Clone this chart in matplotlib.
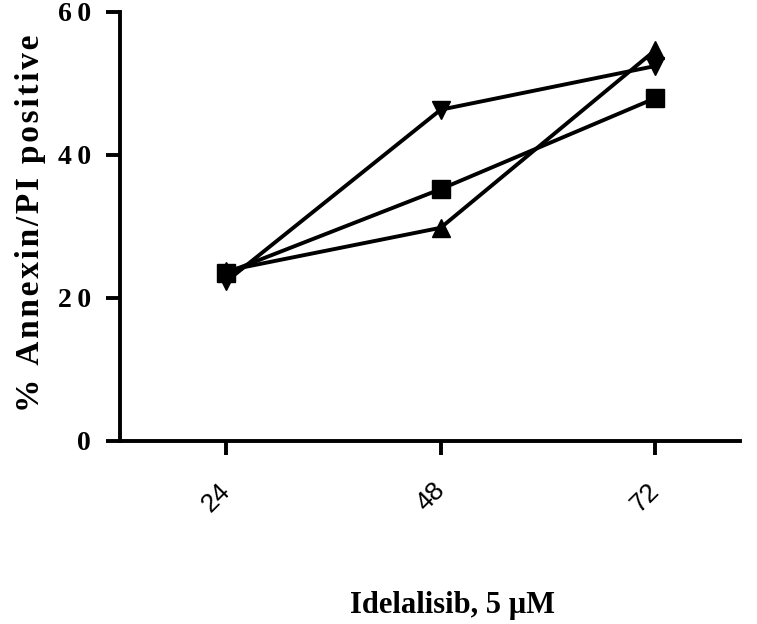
import numpy as np
import matplotlib.pyplot as plt

# time points (h) and % Annexin/PI positive cells, one list per line
hours = [24, 48, 72]
square_vals = [23.5, 35.2, 47.9]
tri_up_vals = [23.8, 29.8, 54.6]
tri_down_vals = [22.3, 46.3, 52.4]

ytick_vals = [0, 20, 40, 60]
ytick_labels = ["0", "2\u20090", "4\u20090", "6\u20090"]

serif = ["Liberation Serif", "DejaVu Serif"]


def spaced(text):
    # loose letter spacing with hair spaces
    return "\u200a".join(text)


fig = plt.figure(figsize=(7.57, 6.24), dpi=100)
ax = fig.add_axes([0.1585, 0.2933, 0.819, 0.688])

lw = 2.8
ax.plot(hours, square_vals, color="black", lw=lw, marker="s", ms=13, zorder=3)
ax.plot(hours, tri_up_vals, color="black", lw=lw, marker="^", ms=13, zorder=3)
ax.plot(hours, tri_down_vals, color="black", lw=lw, marker="v", ms=13, zorder=3)

ax.set_xlim(12.1, 81.5)
ax.set_ylim(0, 60)

ax.spines["top"].set_visible(False)
ax.spines["right"].set_visible(False)
for s in ["left", "bottom"]:
    ax.spines[s].set_linewidth(2.8)
ax.spines["left"].set_bounds(0, 60)

ax.set_xticks(hours)
ax.set_xticklabels([str(h) for h in hours], rotation=45, ha="right",
                   va="center", rotation_mode="anchor",
                   fontsize=19, family="Liberation Sans")
ax.set_yticks(ytick_vals)
ax.set_yticklabels(ytick_labels, fontsize=20, fontweight="bold", family=serif)
ax.tick_params(axis="both", direction="out", length=10, width=2.8)
ax.tick_params(axis="x", pad=23)
ax.tick_params(axis="y", pad=11)

ax.set_ylabel(spaced("% Annexin/PI positive"), fontsize=24, fontweight="bold",
              family=serif)
ax.yaxis.set_label_coords(-0.12, 0.508)
ax.set_xlabel("Idelalisib, 5 \u00b5M", fontsize=22, fontweight="bold",
              family=serif)
ax.xaxis.set_label_coords(0.537, -0.350)

fig.savefig("out.png", dpi=100)
